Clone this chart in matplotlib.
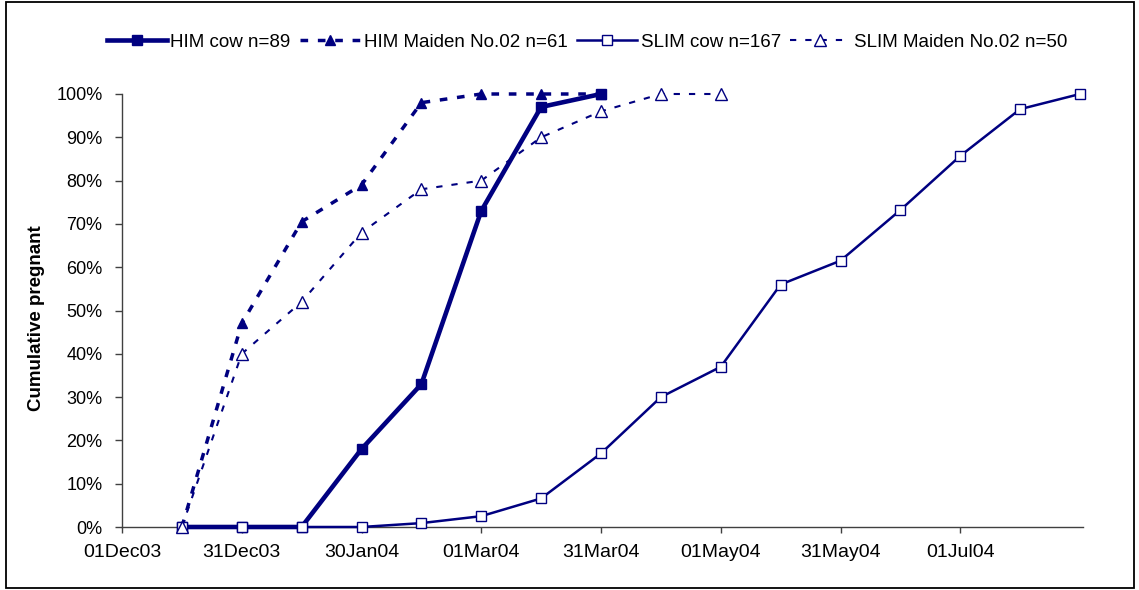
import numpy as np
import matplotlib
matplotlib.use("Agg")
import matplotlib.pyplot as plt
from matplotlib.patches import Rectangle
from matplotlib.ticker import PercentFormatter, FixedLocator

plt.rcParams['font.family'] = ['Liberation Sans', 'DejaVu Sans']
plt.rcParams['lines.scale_dashes'] = False

# Semi-monthly sampling dates (category axis)
dates = ["01Dec03", "16Dec03", "31Dec03", "15Jan04", "30Jan04", "14Feb04",
         "01Mar04", "16Mar04", "31Mar04", "15Apr04", "01May04", "16May04",
         "31May04", "15Jun04", "01Jul04", "16Jul04", "31Jul04"]

# Cumulative % pregnant per group (None = no observation)
him_cow = [None, 0, 0, 0, 18, 33, 73, 97, 100,
           None, None, None, None, None, None, None, None]
him_maiden = [None, 0, 47, 70.5, 79, 98, 100, 100, 100,
              None, None, None, None, None, None, None, None]
slim_cow = [None, 0, 0, 0, 0, 0.9, 2.5, 6.6, 17, 30, 37, 56, 61.5,
            73.2, 85.7, 96.5, 100]
slim_maiden = [None, 0, 40, 52, 68, 78, 80, 90, 96, 100, 100,
               None, None, None, None, None, None]

labels = ["HIM cow n=89", "HIM Maiden No.02 n=61",
          "SLIM cow n=167", "SLIM Maiden No.02 n=50"]

NAVY = "#000080"

W, H = 1139, 590
fig = plt.figure(figsize=(W / 100, H / 100), dpi=100)
ax = fig.add_axes([122 / W, (H - 527) / H, (1083 - 122) / W, (527 - 94) / H])

x_all = np.arange(len(dates))
ax.set_xlim(0, 16.05)
ax.set_ylim(0, 100)

styles = [
    dict(lw=3.3, ls='-', marker='s', ms=6.5, mfc=NAVY),
    dict(lw=2.5, ls=(0, (5.5, 7)), marker='^', ms=7.5, mfc=NAVY),
    dict(lw=1.8, ls='-', marker='s', ms=6.5, mfc='white'),
    dict(lw=1.5, ls=(0, (4.5, 6.5)), marker='^', ms=8, mfc='white'),
]

series = [him_cow, him_maiden, slim_cow, slim_maiden]
handles = []
for vals, st, lab in zip(series, styles, labels):
    ys = np.array([np.nan if v is None else v for v in vals], dtype=float)
    line, = ax.plot(x_all, ys, color=NAVY, lw=st['lw'], ls=st['ls'],
                    marker=st['marker'], ms=st['ms'], mfc=st['mfc'],
                    mec=NAVY, mew=1.0, dash_capstyle='butt',
                    solid_joinstyle='round', clip_on=False, zorder=3,
                    label=lab)
    handles.append(line)

# Axes styling
for side in ('top', 'right'):
    ax.spines[side].set_visible(False)
for side in ('left', 'bottom'):
    ax.spines[side].set_color('#404040')
    ax.spines[side].set_linewidth(1.0)

ax.xaxis.set_major_locator(FixedLocator(x_all[:15:2]))
ax.set_xticklabels(dates[:15:2])
ax.yaxis.set_major_locator(FixedLocator(np.arange(0, 101, 10)))
ax.yaxis.set_major_formatter(PercentFormatter(100, decimals=0))
ax.tick_params(axis='x', direction='out', length=4, width=1.0,
               color='#404040', labelsize=14, pad=8)
ax.tick_params(axis='y', direction='out', length=5, width=1.0,
               color='#404040', labelsize=13, pad=9)

fig.text(37 / W, (H - 318) / H, "Cumulative pregnant", rotation=90,
         ha='center', va='center', fontsize=13.5, fontweight='bold')

fig.legend(handles=handles, loc='center', bbox_to_anchor=(587 / W, (H - 42) / H),
           ncol=4, frameon=False, fontsize=13.5, handlelength=3.2,
           handletextpad=0.2, columnspacing=0.5, borderaxespad=0)

# Outer chart border
fig.add_artist(Rectangle((6 / W, 2 / H), (1134 - 6) / W, (588 - 2) / H,
                         transform=fig.transFigure, fill=False,
                         edgecolor='black', lw=1.3))

fig.savefig("out.png", dpi=100)
